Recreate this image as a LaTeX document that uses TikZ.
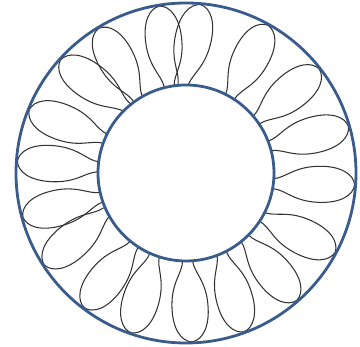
\documentclass[tikz,border=0pt]{standalone}
\definecolor{ringblue}{RGB}{58,92,140}
\begin{document}
\begin{tikzpicture}[x=1pt,y=1pt]
    \tikzstyle{ring} = [draw=ringblue, line width=2.8pt]
    \tikzstyle{petal} = [draw=black!80, line width=1.05pt]

    \useasboundingbox (0,0) rectangle (360,347);
    \coordinate (c) at (186,174);
    % petals: angle at the inner ring / angle at the outer ring
    \foreach \b/\t in {101/99, 92/85, 60/61, 37/38, 18/16, -7/-4,
                       -30/-28, -48/-49, -66/-70, -89/-88, -111/-109, -126/-127,
                       -154/-147, -164/-165, 176/176, 157/158, 132/138, 123/121} {
        \pgfmathsetmacro{\bx}{88*cos(\b)}
        \pgfmathsetmacro{\by}{88*sin(\b)}
        \pgfmathsetmacro{\tx}{169*cos(\t)}
        \pgfmathsetmacro{\ty}{169*sin(\t)}
        \pgfmathsetmacro{\len}{veclen(\tx-\bx,\ty-\by)}
        \pgfmathsetmacro{\ang}{atan2(\ty-\by,\tx-\bx)}
        \begin{scope}[shift={(c)}, shift={(\bx,\by)}, rotate=\ang, xscale={\len/81}]
            \draw[petal] (0,5) .. controls (12,6) and (20,17) .. (44,18)
                .. controls (68,19) and (80,10) .. (81,0)
                .. controls (80,-10) and (68,-19) .. (44,-18)
                .. controls (20,-17) and (12,-6) .. (0,-5);
        \end{scope}
    }
    %
    \draw[ring] (c) circle (170);
    \draw[ring] (c) circle (88);
\end{tikzpicture}
\end{document}
